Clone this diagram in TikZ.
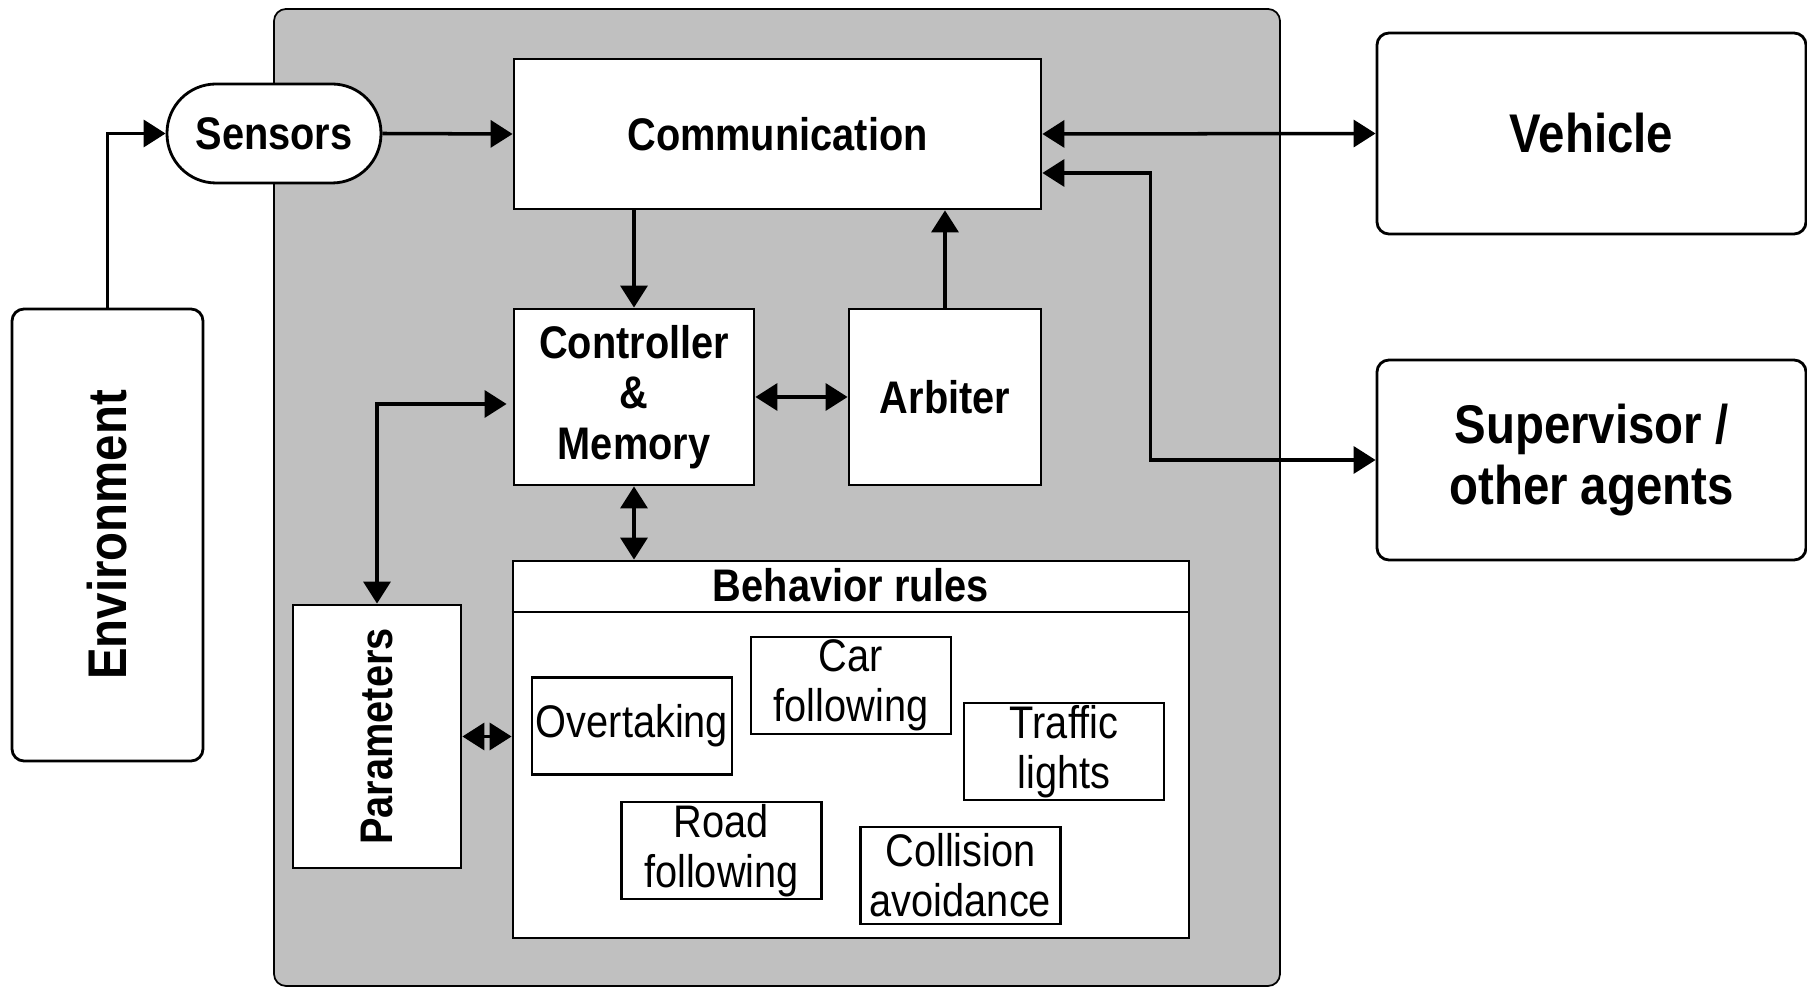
\documentclass[tikz,border=0pt]{standalone}
\usepackage{fontspec}
\setmainfont[FakeStretch=0.87]{Liberation Sans}
\usetikzlibrary{arrows.meta}
\definecolor{panelgray}{RGB}{192,192,192}

\begin{document}
\begin{tikzpicture}[x=0.1mm,y=-0.1mm,>={Triangle[length=2.2mm,width=2.7mm]},
  box/.style={draw,line width=0.8pt,fill=white,align=center,inner sep=0pt},
  outer/.style={box,rounded corners=1.2mm,font=\fontsize{15.5}{17.3}\selectfont\bfseries},
  block/.style={box,font=\fontsize{13}{14.4}\selectfont\bfseries},
  rulebox/.style={box,line width=0.6pt,minimum width=20mm,minimum height=9.7mm,font=\fontsize{13}{14.2}\selectfont},
  link/.style={line width=1pt}]
\useasboundingbox (0,0) rectangle (1807,987);
\filldraw[fill=panelgray,line width=0.5pt,rounded corners=1.2mm] (274,9) rectangle (1280,986);

\node[outer,minimum width=19.1mm,minimum height=45.2mm] (env) at (107.5,535) {};
\node[font=\fontsize{15.5}{17.3}\selectfont\bfseries,rotate=90] at (env) {Environment};
\node[block,rounded corners=4.9mm,minimum width=21.4mm,minimum height=9.9mm] (sens) at (274,133.5) {Sensors};
\node[block,minimum width=52.7mm,minimum height=15mm] (comm) at (777.5,134) {Communication};
\node[outer,minimum width=42.9mm,minimum height=20.1mm] (veh) at (1591.5,133.5) {Vehicle};
\node[outer,minimum width=42.9mm,minimum height=20mm] (sup) at (1591.5,460) {Supervisor /\\other agents};
\node[block,minimum width=24mm,minimum height=17.6mm] (ctrl) at (634,397) {Controller\\\&\\Memory};
\node[block,minimum width=19.2mm,minimum height=17.6mm] (arb) at (945,397) {Arbiter};
\node[block,minimum width=16.8mm,minimum height=26.3mm] (par) at (377,736.5) {};
\node[font=\fontsize{13}{14.4}\selectfont\bfseries,rotate=90] at (par) {Parameters};

\node[box,minimum width=67.6mm,minimum height=37.7mm] (rules) at (851,749.5) {};
\draw[line width=0.6pt] (rules.west |- 0,612) -- (rules.east |- 0,612);
\node[font=\fontsize{13}{14.4}\selectfont\bfseries] (rtitle) at (851,585) {Behavior rules};
\foreach \n/\x/\y/\t in {over/632/726/Overtaking, car/851/685.5/Car\\following,
  traf/1064/751.5/Traffic\\lights, road/721.5/850.5/Road\\following,
  coll/960.5/875.5/Collision\\avoidance}
  \node[rulebox] (\n) at (\x,\y) {\t};

\draw[link,->] (env.north) |- (sens.west);
\draw[link,->] (sens.east) -- (comm.west);
\draw[link,<->] (comm.east) -- (veh.west);
\draw[link,<->] ([yshift=-3.9mm]comm.east) -- ++(108,0) |- (sup.west);
\draw[link,->] (ctrl.north |- comm.south) -- (ctrl.north);
\draw[link,->] (arb.north) -- (arb.north |- comm.south);
\draw[link,<->] (ctrl.east) -- (arb.west);
\draw[link,<->] (ctrl.south) -- (ctrl.south |- rules.north);
\draw[link,<->] (par.north) |- ([yshift=-0.7mm,xshift=-0.6mm]ctrl.west);
\draw[link,<->] (par.east) -- (par.east -| rules.west);
\end{tikzpicture}
\end{document}
